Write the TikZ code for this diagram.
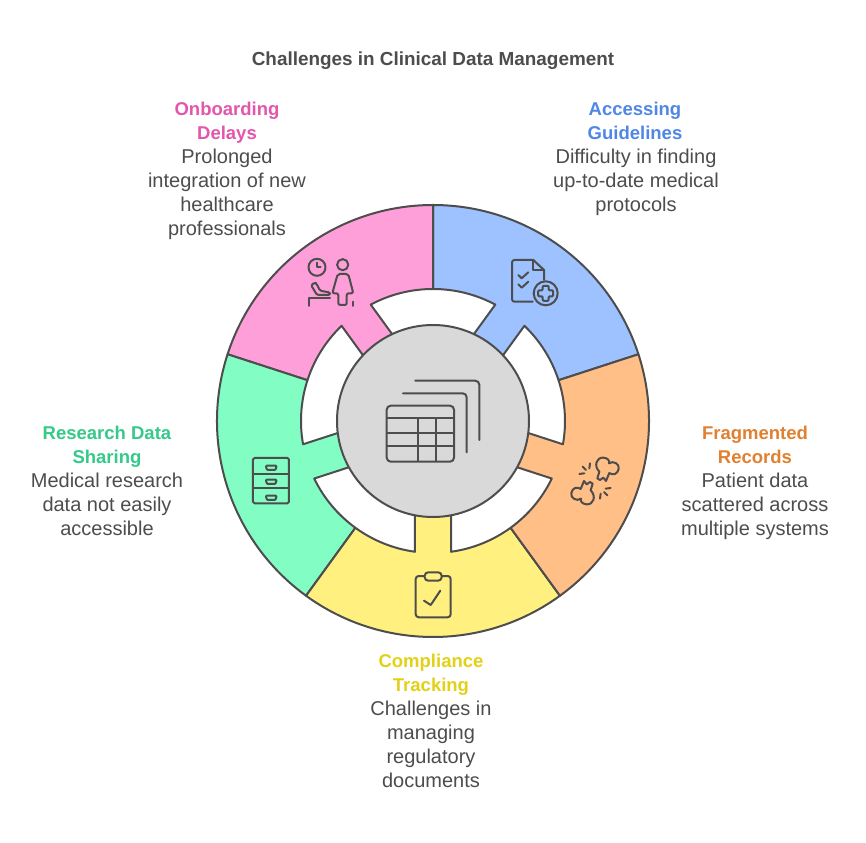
\documentclass[tikz,border=0pt]{standalone}
\usepackage{fontspec}
\setmainfont{Liberation Sans}
\definecolor{ink}{HTML}{4D4D4D}
\definecolor{segblue}{HTML}{9DC2FF}
\definecolor{segorange}{HTML}{FFBF86}
\definecolor{segyellow}{HTML}{FFF080}
\definecolor{seggreen}{HTML}{82FDC4}
\definecolor{segpink}{HTML}{FF9FD9}
\definecolor{hubgrey}{HTML}{D9D9D9}
\definecolor{tblue}{HTML}{4F86E8}
\definecolor{torange}{HTML}{E08030}
\definecolor{tyellow}{HTML}{E3D117}
\definecolor{tgreen}{HTML}{35C98A}
\definecolor{tpink}{HTML}{E455AC}
\newcommand{\seg}[2]{%
 \pgfmathsetmacro{\sa}{#1}\pgfmathsetmacro{\sb}{#1+72}\pgfmathsetmacro{\sc}{#1+36}%
 \pgfmathsetmacro{\dl}{7.84}%
 \fill[#2] (\sa:216pt) arc[start angle=\sa,end angle=\sb,radius=216pt] -- (\sb:132pt)
   arc[start angle=\sb,end angle=\sc+\dl,radius=132pt]
   -- ([shift={(\sc:-40pt)}]\sc+\dl:132pt) -- ([shift={(\sc:-40pt)}]\sc-\dl:132pt) -- (\sc-\dl:132pt)
   arc[start angle=\sc-\dl,end angle=\sa,radius=132pt] -- cycle;
 \draw[segline] (\sa:132pt) -- (\sa:216pt) arc[start angle=\sa,end angle=\sb,radius=216pt] -- (\sb:132pt)
   arc[start angle=\sb,end angle=\sc+\dl,radius=132pt]
   -- ([shift={(\sc:-40pt)}]\sc+\dl:132pt) ([shift={(\sc:-40pt)}]\sc-\dl:132pt) -- (\sc-\dl:132pt)
   arc[start angle=\sc-\dl,end angle=\sa,radius=132pt];
}
\newcommand{\blob}{%
 \draw[iconline] (112,100) -- (118,80) .. controls (100,62) and (110,36) .. (130,38)
   .. controls (143,39) and (150,47) .. (147,55) .. controls (160,45) and (180,58) .. (176,72)
   .. controls (173,88) and (158,92) .. (148,84) -- (138,108) -- (130,98) -- (120,105) -- cycle;
 \draw[iconline] (90,55) -- (88,70) (68,65) -- (78,75) (58,87) -- (73,85);
}
\tikzset{
 segline/.style={draw=ink,line width=2pt,line join=round},
 iconline/.style={draw=ink,line width=2pt,line join=round,line cap=round},
 head/.style={font=\bfseries\fontsize{18.5}{24}\selectfont,align=center,anchor=north},
 body/.style={font=\fontsize{20}{24}\selectfont,text=ink,align=center,anchor=north},
}
\begin{document}
\begin{tikzpicture}[x=1pt,y=1pt]
\useasboundingbox (-433,-421) rectangle (433,421);
\fill[white] (-433,-421) rectangle (433,421);
\seg{18}{segblue}
\seg{90}{segpink}
\seg{162}{seggreen}
\seg{234}{segyellow}
\seg{306}{segorange}
\node[circle,minimum size=192pt,inner sep=0pt,fill=hubgrey,draw=ink,line width=2pt] (hub) at (0,0) {};
\node[font=\bfseries\fontsize{18.9}{22}\selectfont,text=ink] (title) at (0,360) {Challenges in Clinical Data Management};
\node[head,text=tpink] (h1) at (-206,322) {Onboarding\\Delays};
\node[body] (b1) at (-206,276) {Prolonged\\integration of new\\healthcare\\professionals};
\node[head,text=tblue] (h2) at (202,322) {Accessing\\Guidelines};
\node[body] (b2) at (203,276) {Difficulty in finding\\up-to-date medical\\protocols};
\node[head,text=torange] (h3) at (322,-2) {Fragmented\\Records};
\node[body] (b3) at (322,-48) {Patient data\\scattered across\\multiple systems};
\node[head,text=tgreen] (h4) at (-326,-2) {Research Data\\Sharing};
\node[body] (b4) at (-326,-48) {Medical research\\data not easily\\accessible};
\node[head,text=tyellow] (h5) at (-2,-230) {Compliance\\Tracking};
\node[body] (b5) at (-2,-276) {Challenges in\\managing\\regulatory\\documents};
\begin{scope}[shift={(-433,421)},y=-1pt]
 % hub table
 \draw[iconline,rounded corners=4pt] (386.7,405.7) rectangle (454,461.7);
 \draw[iconline,line cap=butt] (386.7,418.3) -- (454,418.3) (386.7,433) -- (454,433) (386.7,446) -- (454,446)
   (418,418.3) -- (418,461.7) (436,418.3) -- (436,461.7);
 \draw[iconline,rounded corners=4pt] (415.3,380.7) -- (479.3,380.7) -- (479.3,440);
 \draw[iconline,rounded corners=4pt] (403,393.3) -- (466.7,393.3) -- (466.7,452.3);
 % clipboard
 \draw[iconline,rounded corners=3pt] (415.7,576) rectangle (450.7,617.3);
 \draw[iconline,fill=segyellow,rounded corners=3.5pt] (424.7,572.3) rectangle (441.7,580.7);
 \draw[iconline] (424,600.7) -- (430.7,605) -- (440.3,590.7);
 % drawers
 \draw[iconline,rounded corners=1.5pt] (253,458) rectangle (289,503.3);
 \draw[iconline,line cap=butt] (253,473.7) -- (289,473.7) (253,488) -- (289,488);
 \foreach \hy in {465.7,479.7,495.7}
  \draw[iconline,rounded corners=1pt] (265.7,\hy) -- (276.7,\hy) -- (275.5,\hy+4.3) -- (267,\hy+4.3) -- cycle;
 % onboarding
 \draw[iconline] (317,267.3) circle[radius=8.5pt];
 \draw[iconline] (317,262.7) -- (317,267.3) -- (320.7,267.3);
 \draw[iconline] (342.7,264.7) circle[radius=5.6pt];
 \draw[iconline,rounded corners=2pt] (338.3,293.3) -- (332.3,293.3) -- (337.7,274) -- (348.3,274) -- (353.3,293.3) -- (346.7,293.3) -- (346.7,305) -- (338.3,305) -- cycle;
 \draw[iconline] (352.7,301.7) -- (352.7,306);
 \draw[iconline] (309,306) -- (309,298.3) -- (330,298.3);
 \draw[iconline,rounded corners=1.5pt] (311,285) -- (315,282.7) -- (316.5,283.5) -- (320,290.7) -- (330,292.5) -- (330,295) -- (317,295) -- cycle;
 % guidelines
 \draw[iconline,rounded corners=2.5pt] (532.7,301.7) -- (512,301.7) -- (512,260) -- (533.3,260);
 \draw[iconline] (533.3,260) -- (544,270) -- (544,280);
 \draw[iconline] (533.3,260) -- (533.3,270) -- (544,270);
 \draw[iconline] (518.3,275) -- (521.7,278.3) -- (528.3,272.3);
 \draw[iconline] (518.3,284.3) -- (521.7,287.7) -- (528.3,281.7);
 \draw[iconline] (545.7,293.3) circle[radius=12pt];
 \draw[iconline,rounded corners=1pt] (542.7,285.8) -- (548.7,285.8) -- (548.7,290.3) -- (553.2,290.3) -- (553.2,296.3) -- (548.7,296.3) -- (548.7,300.8) -- (542.7,300.8) -- (542.7,296.3) -- (538.2,296.3) -- (538.2,290.3) -- (542.7,290.3) -- cycle;
 % fragmented records
 \begin{scope}[shift={(560,445)},x=0.3333pt,y=-0.3333pt]
  \blob
  \begin{scope}[rotate around={180:(105,108)}]
   \blob
  \end{scope}
 \end{scope}
\end{scope}
\end{tikzpicture}
\end{document}
